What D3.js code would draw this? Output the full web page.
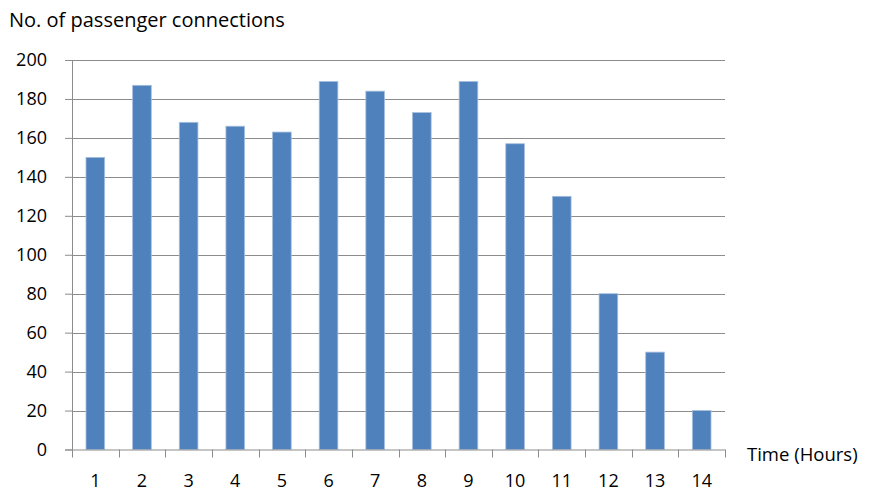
<!DOCTYPE html>
<html>
<head>
<meta charset="utf-8">
<script src="https://cdn.jsdelivr.net/npm/d3@7"></script>
<style>
  body { margin: 0; background: #fff; }
  svg { display: block; font-family: "Open Sans", sans-serif; }
</style>
</head>
<body>
<script>
// data
const hours = ["1", "2", "3", "4", "5", "6", "7", "8", "9", "10", "11", "12", "13", "14"];
const connections = [150, 187, 168, 166, 163, 189, 184, 173, 189, 157, 130, 80, 50, 20];
const yTicks = [0, 20, 40, 60, 80, 100, 120, 140, 160, 180, 200];

const W = 871, H = 491;
const margin = { top: 60, left: 72, right: 146, bottom: 41.5 };
const width = W - margin.left - margin.right;
const height = H - margin.top - margin.bottom;

const svg = d3.select("body").append("svg")
  .attr("width", W)
  .attr("height", H);

const g = svg.append("g")
  .attr("transform", `translate(${margin.left}, ${margin.top})`);

const x = d3.scaleBand()
  .domain(hours)
  .range([0, width])
  .paddingInner(0.6)
  .paddingOuter(0.3);

const y = d3.scaleLinear()
  .domain([0, 200])
  .range([height, 0]);

// horizontal gridlines
g.selectAll(".grid")
  .data(yTicks.filter(d => d > 0))
  .enter().append("line")
  .attr("class", "grid")
  .attr("x1", 0)
  .attr("x2", width)
  .attr("y1", d => Math.round(y(d)) + 0.5)
  .attr("y2", d => Math.round(y(d)) + 0.5)
  .style("stroke", "#8c8c8c")
  .style("stroke-width", 1);

// bars
g.selectAll(".bar")
  .data(connections)
  .enter().append("rect")
  .attr("class", "bar")
  .attr("x", (d, i) => x(hours[i]))
  .attr("width", x.bandwidth())
  .attr("y", d => y(d))
  .attr("height", d => height - y(d))
  .style("fill", "#4f81bd")
  .style("stroke", "#a7bfde")
  .style("stroke-width", 0.8);

// y axis
const yAxis = g.append("g")
  .call(d3.axisLeft(y).tickValues(yTicks).tickSize(7).tickPadding(18));
yAxis.select(".domain").style("stroke", "#8c8c8c");
yAxis.selectAll(".tick line").style("stroke", "#8c8c8c");
yAxis.selectAll("text")
  .style("font-size", "18px")
  .style("font-family", "'Open Sans', sans-serif")
  .style("fill", "#000");

// x axis, ticks on category boundaries
const boundaries = d3.range(hours.length + 1).map(i => i * width / hours.length);
const xAxis = g.append("g")
  .attr("transform", `translate(0, ${height})`);
xAxis.append("line")
  .attr("x1", 0).attr("x2", width)
  .attr("y1", 0.5).attr("y2", 0.5)
  .style("stroke", "#8c8c8c");
xAxis.selectAll(".xtick")
  .data(boundaries)
  .enter().append("line")
  .attr("class", "xtick")
  .attr("x1", d => Math.round(d) + 0.5)
  .attr("x2", d => Math.round(d) + 0.5)
  .attr("y1", 0).attr("y2", 8)
  .style("stroke", "#8c8c8c");
xAxis.selectAll(".xlabel")
  .data(hours)
  .enter().append("text")
  .attr("class", "xlabel")
  .attr("x", d => x(d) + x.bandwidth() / 2)
  .attr("y", 37)
  .attr("text-anchor", "middle")
  .style("font-size", "18px")
  .text(d => d);

// axis titles
svg.append("text")
  .attr("x", 9)
  .attr("y", 27)
  .style("font-size", "20px")
  .text("No. of passenger connections");

svg.append("text")
  .attr("x", 747)
  .attr("y", 461)
  .style("font-size", "18.5px")
  .text("Time (Hours)");
</script>
</body>
</html>
